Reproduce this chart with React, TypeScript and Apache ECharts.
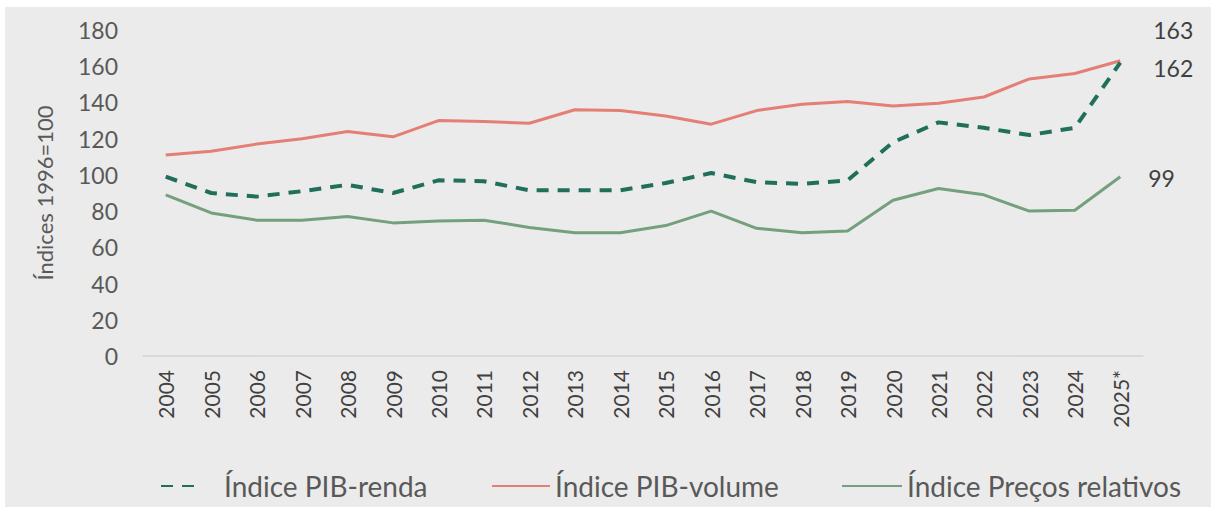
import React, { useEffect, useRef } from "react";
import * as echarts from "echarts";

const years = ["2004","2005","2006","2007","2008","2009","2010","2011","2012","2013","2014","2015","2016","2017","2018","2019","2020","2021","2022","2023","2024","2025*"];
const pibRenda = [99, 90, 88, 91, 94.5, 90, 97, 96.5, 91.5, 91.5, 91.5, 95.5, 101, 96, 95, 97, 118, 129, 126, 122, 126, 162];
const pibVolume = [111, 113, 117, 120, 124, 121, 130, 129.5, 128.5, 136, 135.5, 132.5, 128, 135.5, 139, 140.5, 138, 139.5, 143, 153, 156, 163];
const precosRelativos = [89, 79, 75, 75, 77, 73.5, 74.5, 75, 71, 68, 68, 72, 80, 70.5, 68, 69, 86, 92.5, 89, 80, 80.5, 99];
const seriesNames = ["Índice PIB-renda", "Índice PIB-volume", "Índice Preços relativos"];
const yTicks = { min: 0, max: 180, interval: 20 };
const yAxisName = "Índices 1996=100";

const FONT = "Lato, 'Open Sans', sans-serif";

function endLabel(offset: [number, number]) {
  return {
    show: true,
    offset,
    distance: 5,
    formatter: (p: any) => String(Array.isArray(p.value) ? p.value[1] : p.value),
    fontSize: 23,
    color: "#404040",
    fontFamily: FONT,
  };
}

const legendBase = {
  top: 467,
  itemHeight: 14,
  itemStyle: { color: "rgba(0,0,0,0)", borderColor: "rgba(0,0,0,0)", borderWidth: 0, opacity: 0 },
};

export default function App() {
  const ref = useRef<HTMLDivElement>(null);
  useEffect(() => {
    if (!ref.current) return;
    const chart = echarts.init(ref.current, undefined, { renderer: "svg" });
    chart.setOption({
      animation: false,
      backgroundColor: "#ffffff",
      textStyle: { fontFamily: FONT },
      graphic: [
        {
          type: "rect",
          z: -100,
          silent: true,
          shape: { x: 5, y: 7, width: 1206, height: 500 },
          style: { fill: "#ebebeb" },
        },
      ],
      grid: { left: 143, top: 30, width: 1000, height: 326, containLabel: false },
      xAxis: {
        type: "category",
        data: years,
        boundaryGap: true,
        axisLine: { show: true, lineStyle: { color: "#d4d4d4", width: 1.5 } },
        axisTick: { show: false },
        axisLabel: {
          interval: 0,
          rotate: 90,
          margin: 14,
          fontSize: 21,
          color: "#404040",
          fontFamily: FONT,
        },
        splitLine: { show: false },
      },
      yAxis: {
        type: "value",
        min: yTicks.min,
        max: yTicks.max,
        interval: yTicks.interval,
        name: yAxisName,
        nameLocation: "middle",
        nameGap: 88,
        nameRotate: 90,
        nameTextStyle: { fontSize: 22, color: "#595959", fontFamily: FONT },
        axisLine: { show: false },
        axisTick: { show: false },
        splitLine: { show: false },
        axisLabel: { fontSize: 23, color: "#595959", margin: 25, fontFamily: FONT },
      },
      legend: [
        {
          ...legendBase,
          data: [seriesNames[0]],
          left: 155,
          itemWidth: 36,
          textStyle: { fontSize: 28, color: "#595959", padding: [0, 0, 0, 22], fontFamily: FONT },
        },
        {
          ...legendBase,
          data: [seriesNames[1]],
          left: 486,
          itemWidth: 58,
          textStyle: { fontSize: 28, color: "#595959", fontFamily: FONT },
        },
        {
          ...legendBase,
          data: [seriesNames[2]],
          left: 836,
          itemWidth: 60,
          textStyle: { fontSize: 28, color: "#595959", fontFamily: FONT },
        },
      ],
      series: [
        {
          name: seriesNames[1],
          type: "line",
          data: pibVolume,
          symbol: "none",
          lineStyle: { color: "#e47f75", width: 3 },
          itemStyle: { color: "#e47f75" },
          endLabel: endLabel([28, -31]),
          z: 2,
        },
        {
          name: seriesNames[2],
          type: "line",
          data: precosRelativos,
          symbol: "none",
          lineStyle: { color: "#74a07e", width: 3 },
          itemStyle: { color: "#74a07e" },
          endLabel: endLabel([23, 1]),
          z: 2,
        },
        {
          name: seriesNames[0],
          type: "line",
          data: pibRenda,
          symbol: "none",
          lineStyle: { color: "#1f6f5b", width: 4, type: [12, 9] },
          itemStyle: { color: "#1f6f5b" },
          endLabel: endLabel([28, 5]),
          z: 3,
        },
      ],
    });
    return () => chart.dispose();
  }, []);
  return (
    <div
      ref={ref}
      style={{ position: "fixed", left: 0, top: 0, width: 1211, height: 507 }}
    />
  );
}
